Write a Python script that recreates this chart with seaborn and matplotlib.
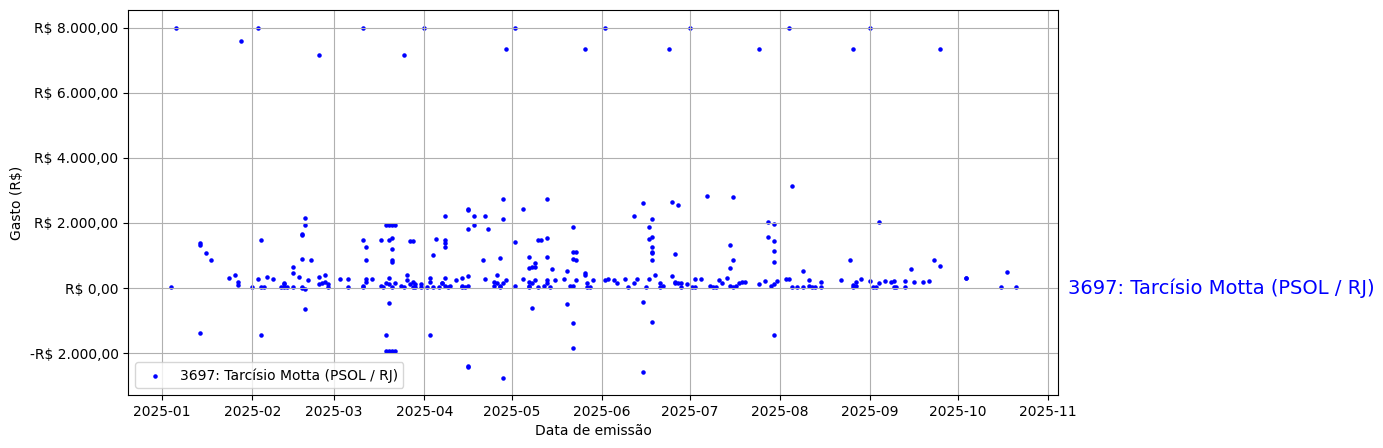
import numpy as np
import pandas as pd
import matplotlib
matplotlib.use("Agg")
import matplotlib.pyplot as plt
import matplotlib.ticker as mticker
import seaborn as sns

label = "3697: Tarcísio Motta (PSOL / RJ)"

# days since 2025-01-01 and spending values (R$)
dias_topo = [5, 27, 33, 54, 69, 83, 90, 118, 121, 145, 152, 174, 181, 205, 215, 237, 243, 267]
gasto_topo = [8000, 7600, 8000, 7170, 8000, 7170, 8000, 7355, 8000, 7355, 8000, 7355, 8000, 7355, 8000, 7355, 8000, 7355]

dias_jan = [3, 13, 13, 15, 17, 13, 23, 25, 26, 26]
gasto_jan = [20, 1400, 1320, 1083, 855, -1390, 297, 395, 190, 100]

dias_fev = [31, 33, 34, 34, 34, 35, 36, 38, 41, 42, 42, 42, 43, 45, 45, 45, 47, 48, 48, 48, 48, 48,
            49, 49, 49, 49, 50, 51, 54, 54, 55, 56, 56, 57, 57]
gasto_fev = [40, 267, 1473, -1442, 20, 20, 330, 270, 20, 113, 144, 20, 20, 654, 450, 20, 328, 40, 1660, 1640, 880, 0,
             2138, 1923, -30, -655, 245, 855, 328, 113, 150, 390, 193, 20, 113]

dias_mar = [61, 64, 64, 69, 69, 69, 70, 70, 70, 70, 72, 75, 75, 76, 77, 77, 78, 79, 80, 77, 78, 79, 80,
            78, 79, 79, 79, 79, 78, 78, 77, 78, 79, 80, 85, 86, 82, 83, 84, 84, 85, 86, 86, 87, 87, 89, 89]
gasto_mar = [270, 20, 270, 1482, 70, 20, 1248, 855, 193, 267, 270, 1473, 70, 20, -1442, 1950, 1950, 1950, 1950,
             -1950, -1950, -1950, -1950, 1473, 1525, 1187, 860, 800, 320, -470, 150, 113, 20, 150, 1450, 1450,
             70, 20, 400, 245, 113, 193, 20, 113, 20, 113, 20]

dias_abr = [91, 92, 92, 92, 93, 93, 94, 95, 96, 96, 97, 97, 97, 97, 97, 97, 98, 99, 101, 103, 103, 103, 104,
            105, 105, 105, 105, 105, 105, 105, 107, 107, 110, 111, 111, 112, 114, 114, 115, 115, 116, 116, 116,
            117, 117, 117, 117, 118]
gasto_abr = [20, 297, 193, -1442, 20, 1003, 1494, 20, 144, 150, 70, 297, 2200, 1473, 1390, 1248, 20, 70, 245,
             297, 20, 61, 20, 368, 70, 2424, 2390, 1800, -2400, -2440, 2200, 1923, 855, 267, 2200, 1800, 193,
             70, 399, 150, 70, 20, 911, 150, 2752, 2108, -2750, 245]

dias_mai = [121, 121, 124, 124, 126, 126, 126, 126, 126, 127, 127, 127, 128, 128, 128, 129, 129, 130, 131,
            132, 132, 132, 132, 132, 133, 134, 135, 138, 139, 139, 140, 141, 141, 141, 141, 141, 141, 142, 142,
            142, 145, 145, 146, 146, 147, 148]
gasto_mai = [1402, 70, 267, 2445, 941, 604, 193, 70, 20, 635, -623, 150, 758, 635, 245, 40, 1463, 1463, 70,
             245, 150, 2722, 1525, 941, 20, 573, 245, 276, 522, -500, 70, 70, 1862, 1105, 880, -1083, -1850,
             1105, 859, 245, 450, 390, 150, 20, 20, 245]

dias_jun = [152, 153, 155, 156, 159, 160, 162, 162, 163, 165, 165, 165, 166, 167, 167, 167, 168, 168, 168,
            168, 168, 168, 168, 169, 171, 171, 172, 175, 175, 176, 176, 176, 177, 177, 178, 178, 180]
gasto_jun = [245, 267, 245, 150, 267, 40, 150, 2200, 267, 2600, -439, -2587, 40, 267, 1862, 1494, 1555, 2108,
             1248, 1105, 1065, 859, -1052, 399, 150, 20, 61, 2660, 368, 1034, 150, 200, 2567, 150, 20, 150, 113]

dias_jul = [182, 183, 183, 185, 187, 188, 189, 190, 191, 192, 194, 195, 195, 195, 196, 196, 196, 197, 198,
            199, 200, 205, 207, 208, 208, 209, 210, 210, 210, 210, 210, 210, 211]
gasto_jul = [20, 20, 267, 267, 2844, 70, 20, 20, 245, 150, 297, 1310, 604, 70, 2814, 859, 20, 70, 150, 193,
             174, 113, 215, 2016, 1565, 70, 1964, 1432, 1126, 788, -1452, 113, 215]

dias_ago = [214, 215, 216, 216, 218, 220, 220, 222, 222, 223, 224, 226, 226, 233, 236, 237, 237, 238, 238, 240]
gasto_ago = [267, 267, 3150, 20, 20, 522, 20, 245, 70, 20, 20, 174, 20, 245, 850, 20, 90, 193, 70, 267]

dias_set = [243, 244, 245, 246, 246, 248, 250, 251, 251, 252, 255, 255, 257, 258, 261, 263, 265, 267]
gasto_set = [215, 20, 20, 2016, 150, 215, 174, 215, 20, 20, 20, 215, 573, 174, 174, 205, 850, 665]

dias_out = [276, 276, 288, 290, 293]
gasto_out = [297, 310, 20, 480, 40]

dias = (dias_topo + dias_jan + dias_fev + dias_mar + dias_abr + dias_mai + dias_jun
        + dias_jul + dias_ago + dias_set + dias_out)
gastos = (gasto_topo + gasto_jan + gasto_fev + gasto_mar + gasto_abr + gasto_mai + gasto_jun
          + gasto_jul + gasto_ago + gasto_set + gasto_out)

df = pd.DataFrame({
    "data": pd.Timestamp("2025-01-01") + pd.to_timedelta(dias, unit="D"),
    "gasto": gastos,
})

fig = plt.figure(figsize=(13.83, 4.48), dpi=100)
ax = fig.add_axes([0.0928, 0.1183, 0.6724, 0.8587])

sns.scatterplot(data=df, x="data", y="gasto", color="blue", edgecolor="blue",
                s=5, linewidth=1, label=label, ax=ax)

ax.grid(True)
ax.set_xlabel("Data de emissão")
ax.set_ylabel("Gasto (R$)")


def brl(v, pos):
    s = f"{abs(v):,.2f}".replace(",", "X").replace(".", ",").replace("X", ".")
    return ("-R$ " if v < 0 else "R$ ") + s


ax.yaxis.set_major_formatter(mticker.FuncFormatter(brl))
ax.legend(loc="lower left")
ax.text(1.01, 0, label, transform=ax.get_yaxis_transform(), va="center", ha="left",
        color="blue", fontsize=14)

fig.savefig("out.png", dpi=100)
